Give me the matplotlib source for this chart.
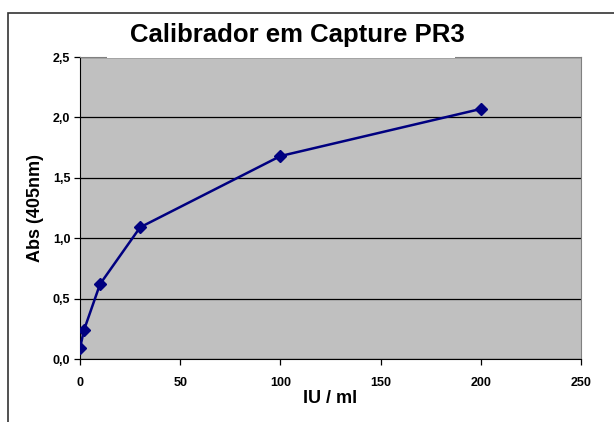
import matplotlib.pyplot as plt
from matplotlib.patches import Rectangle
from matplotlib.ticker import FuncFormatter

# calibration points
conc = [0, 2, 10, 30, 100, 200]
absorb = [0.09, 0.24, 0.62, 1.09, 1.68, 2.07]

plt.rcParams['font.family'] = ['Liberation Sans', 'DejaVu Sans']

fig = plt.figure(figsize=(6.14, 4.22), dpi=100)
ax = fig.add_axes([80 / 614, 63 / 422, 501 / 614, 302 / 422])

# outer chart frame (only left and top edges visible)
fig.patches.append(Rectangle((8 / 614, -0.1), 1.2, (422 - 13) / 422 + 0.1,
                             transform=fig.transFigure, fill=False,
                             edgecolor='#333333', linewidth=1.2))

ax.set_facecolor('#C0C0C0')
ax.plot(conc, absorb, color='#000080', linewidth=1.8, marker='D',
        markersize=6.5, zorder=3)

ax.set_xlim(0, 250)
ax.set_ylim(0, 2.5)
ax.set_xticks(range(0, 251, 50))
ax.set_yticks([0, 0.5, 1.0, 1.5, 2.0, 2.5])
ax.yaxis.set_major_formatter(FuncFormatter(lambda v, p: f'{v:.1f}'.replace('.', ',')))
ax.grid(axis='y', color='black', linewidth=0.9)
ax.set_axisbelow(True)

for s in ['top', 'right']:
    ax.spines[s].set_color('#808080')
for s in ['left', 'bottom']:
    ax.spines[s].set_color('black')

ax.tick_params(axis='both', direction='out', length=4, width=0.9,
               labelsize=9, pad=3)
ax.tick_params(axis='x', pad=9)
for lbl in ax.get_xticklabels() + ax.get_yticklabels():
    lbl.set_fontweight('bold')

ax.set_xlabel('IU / ml', fontsize=13, fontweight='bold', labelpad=1)
ax.set_ylabel('Abs (405nm)', fontsize=13, fontweight='bold', labelpad=6)

# white title box that hides part of the plot area's top border
fig.add_artist(Rectangle((107 / 614, (422 - 57.8) / 422), 348 / 614, 40 / 422,
                         transform=fig.transFigure, facecolor='white',
                         edgecolor='none', zorder=4))
fig.text(297 / 614, (422 - 35) / 422, 'Calibrador em Capture PR3',
         ha='center', va='center', fontsize=18.5, fontweight='bold', zorder=5)

fig.savefig('out.png', dpi=100)
